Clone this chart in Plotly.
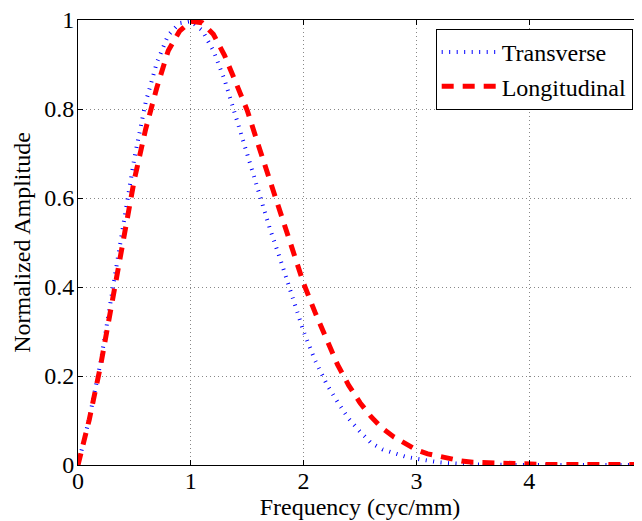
import plotly.graph_objects as go

# Frequency samples (cyc/mm)
freq = [0.0, 0.1, 0.2, 0.3, 0.4, 0.5, 0.6, 0.7, 0.8, 0.9,
        1.0, 1.1, 1.2, 1.3, 1.4, 1.5, 1.6, 1.7, 1.8, 1.9,
        2.0, 2.1, 2.2, 2.3, 2.4, 2.5, 2.6, 2.7, 2.8, 2.9,
        3.0, 3.1, 3.2, 3.3, 3.4, 3.5, 3.6, 3.7, 3.8, 3.9,
        4.0, 4.2, 4.4, 4.6, 4.8, 5.0]

transverse = [0.0, 0.105, 0.23, 0.38, 0.54, 0.69, 0.815, 0.905, 0.966, 0.993,
              0.997, 0.977, 0.931, 0.865, 0.782, 0.70, 0.612, 0.532, 0.457, 0.38,
              0.30, 0.236, 0.184, 0.142, 0.104, 0.075, 0.049, 0.035, 0.026, 0.019,
              0.014, 0.009, 0.006, 0.004, 0.002, 0.001, 0.001, 0.0, 0.0, 0.0,
              0.0, 0.0, 0.0, 0.0, 0.0, 0.0]

longitudinal = [0.0, 0.102, 0.223, 0.362, 0.505, 0.642, 0.755, 0.849, 0.931, 0.975,
                0.997, 0.994, 0.968, 0.92, 0.859, 0.797, 0.718, 0.639, 0.561, 0.485,
                0.408, 0.344, 0.283, 0.226, 0.179, 0.14, 0.108, 0.082, 0.063, 0.047,
                0.034, 0.025, 0.019, 0.013, 0.009, 0.006, 0.005, 0.004, 0.003, 0.002,
                0.002, 0.001, 0.001, 0.001, 0.001, 0.001]

x_ticks = [0, 1, 2, 3, 4, 5]
y_ticks = [0, 0.2, 0.4, 0.6, 0.8, 1]

FONT = "Liberation Serif"

fig = go.Figure()
fig.add_trace(go.Scatter(x=freq, y=transverse, mode="lines", name="Transverse",
                         line=dict(color="#0000ff", width=4, dash="1px,6.5px")))
fig.add_trace(go.Scatter(x=freq, y=longitudinal, mode="lines", name="Longitudinal",
                         line=dict(color="#ff0000", width=5, dash="12px,9px")))
# helper axis for right-side ticks (no line)
fig.add_trace(go.Scatter(x=[], y=[], yaxis="y2", showlegend=False, hoverinfo="skip"))

axis_common = dict(
    showline=True, linecolor="black", linewidth=1,
    ticks="inside", ticklen=5, tickcolor="black", tickwidth=1,
    showgrid=True, gridcolor="#888888", gridwidth=1, griddash="1px,3px",
    zeroline=False, automargin=False, ticklabeloverflow="allow",
    tickfont=dict(family=FONT, size=24, color="black"),
)

# page body has an 8px margin, so the figure is sized to fit the 642x521 window
fig.update_layout(
    width=634, height=513,
    margin=dict(l=70, r=0, t=12, b=56),
    paper_bgcolor="white", plot_bgcolor="white",
    font=dict(family=FONT, size=24, color="black"),
    xaxis=dict(range=[0, 5], tickvals=x_ticks, mirror="ticks", ticklabelstandoff=-6,
               title=dict(text="Frequency (cyc/mm)", standoff=0,
                          font=dict(family=FONT, size=24, color="black")),
               **axis_common),
    yaxis=dict(range=[0, 1], tickvals=y_ticks, mirror=False, ticklabelstandoff=-2,
               title=dict(text="Normalized Amplitude", standoff=6,
                          font=dict(family=FONT, size=24, color="black")),
               **axis_common),
    yaxis2=dict(range=[0, 1], tickvals=y_ticks, overlaying="y", side="right",
                showline=False, showgrid=False, showticklabels=False, zeroline=False,
                automargin=False,
                ticks="inside", ticklen=5, tickcolor="black", tickwidth=1),
    legend=dict(x=0.9835, xanchor="right", y=0.98, yanchor="top",
                bgcolor="white", bordercolor="black", borderwidth=1,
                font=dict(family=FONT, size=24, color="black"),
                tracegroupgap=0, itemwidth=55),
    showlegend=True,
)

fig.write_html("out.html")
